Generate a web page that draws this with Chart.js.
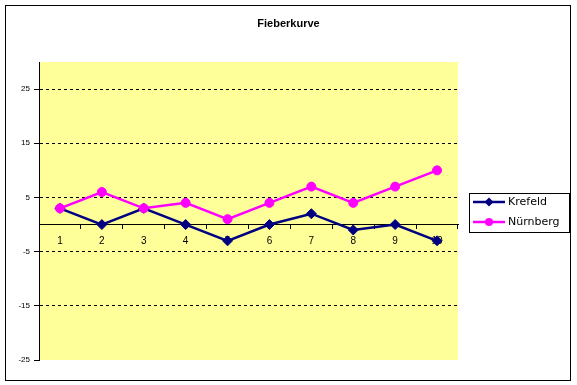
<!DOCTYPE html>
<html>
<head>
<meta charset="utf-8">
<script src="https://cdn.jsdelivr.net/npm/chart.js@4/dist/chart.umd.min.js"></script>
<style>
html,body{margin:0;padding:0;background:#fff;}
canvas{display:block;}
</style>
</head>
<body>
<canvas id="c" width="577" height="385"></canvas>
<script>
const chartTitle = 'Fieberkurve';
const categories = ['1','2','3','4','5','6','7','8','9','10'];
const krefeld = [3, 0, 3, 0, -3, 0, 2, -1, 0, -3];
const nuernberg = [3, 6, 3, 4, 1, 4, 7, 4, 7, 10];
const seriesNames = ['Krefeld', 'Nürnberg'];
const yTickValues = [-25, -15, -5, 5, 15, 25];
const yMin = -25, yMax = 30;

const bgPlugin = {
  id: 'bg',
  beforeDraw(chart) {
    const {ctx, chartArea: a} = chart;
    ctx.save();
    ctx.fillStyle = '#FFFF99';
    ctx.fillRect(a.left, a.top, a.right - a.left, a.bottom - a.top);
    ctx.restore();
  },
  afterDraw(chart) {
    const ctx = chart.ctx;
    ctx.save();
    ctx.strokeStyle = '#000';
    ctx.lineWidth = 1;
    ctx.strokeRect(5.5, 5.5, 565, 375);
    // title
    ctx.fillStyle = '#000';
    ctx.font = 'bold 11px "Liberation Sans", Arial, sans-serif';
    ctx.textAlign = 'center';
    ctx.textBaseline = 'alphabetic';
    ctx.fillText(chartTitle, 288.5, 27);
    // legend
    ctx.strokeRect(469.5, 193.5, 100, 39);
    const rows = [202, 222];
    chart.data.datasets.forEach((ds, i) => {
      const y = rows[i];
      ctx.strokeStyle = ds.borderColor;
      ctx.lineWidth = ds.borderWidth;
      ctx.beginPath();
      ctx.moveTo(473, y);
      ctx.lineTo(505, y);
      ctx.stroke();
      ctx.fillStyle = ds.pointBackgroundColor;
      ctx.beginPath();
      if (ds.pointStyle === 'rectRot') {
        const r = 4.5;
        ctx.moveTo(489, y - r); ctx.lineTo(489 + r, y); ctx.lineTo(489, y + r); ctx.lineTo(489 - r, y); ctx.closePath();
      } else {
        ctx.arc(489, y, 4, 0, Math.PI * 2);
      }
      ctx.fill();
      ctx.fillStyle = '#000';
      ctx.font = '11px "DejaVu Sans"';
      ctx.textBaseline = 'middle';
      ctx.textAlign = 'left';
      ctx.fillText(ds.label, 508, y);
    });
    ctx.restore();
  }
};

new Chart(document.getElementById('c'), {
  type: 'line',
  data: {
    labels: categories,
    datasets: [
      {
        label: seriesNames[0],
        data: krefeld,
        borderColor: '#000080',
        backgroundColor: '#000080',
        pointBackgroundColor: '#000080',
        pointBorderColor: '#000080',
        pointStyle: 'rectRot',
        pointRadius: 5,
        pointBorderWidth: 1,
        borderWidth: 2.5,
        tension: 0,
        order: 1
      },
      {
        label: seriesNames[1],
        data: nuernberg,
        borderColor: '#FF00FF',
        backgroundColor: '#FF00FF',
        pointBackgroundColor: '#FF00FF',
        pointBorderColor: '#FF00FF',
        pointStyle: 'circle',
        pointRadius: 4.5,
        pointBorderWidth: 1,
        borderWidth: 2.5,
        tension: 0,
        order: 0
      }
    ]
  },
  options: {
    responsive: false,
    animation: false,
    devicePixelRatio: 1,
    layout: { padding: { left: 0, right: 119, top: 62, bottom: 25 } },
    plugins: {
      legend: { display: false },
      tooltip: { enabled: false },
      title: { display: false }
    },
    scales: {
      x: {
        type: 'category',
        position: { y: 0 },
        offset: true,
        afterFit(s) { s.height = 0; },
        grid: { display: true, drawOnChartArea: false, drawTicks: true, tickLength: 4, color: '#000', tickColor: '#000', offset: true },
        border: { display: true, color: '#000', width: 1 },
        ticks: { color: '#000', padding: 7, maxRotation: 0, autoSkip: false, font: { family: '"Liberation Sans", Arial, sans-serif', size: 10 } }
      },
      y: {
        min: yMin,
        max: yMax,
        afterFit(s) { s.width = 39; },
        afterBuildTicks(s) { s.ticks = yTickValues.map(v => ({ value: v })); },
        grid: {
          display: true,
          drawOnChartArea: true,
          drawTicks: true,
          tickLength: 5,
          color: ctx => (ctx.tick && ctx.tick.value === yMin) ? 'rgba(0,0,0,0)' : '#000',
          tickColor: '#000',
          lineWidth: 1
        },
        border: { display: true, color: '#000', width: 1, dash: [3, 3] },
        ticks: { color: '#000', padding: 4, font: { family: '"Liberation Sans", Arial, sans-serif', size: 8 } }
      }
    }
  },
  plugins: [bgPlugin]
});
</script>
</body>
</html>
